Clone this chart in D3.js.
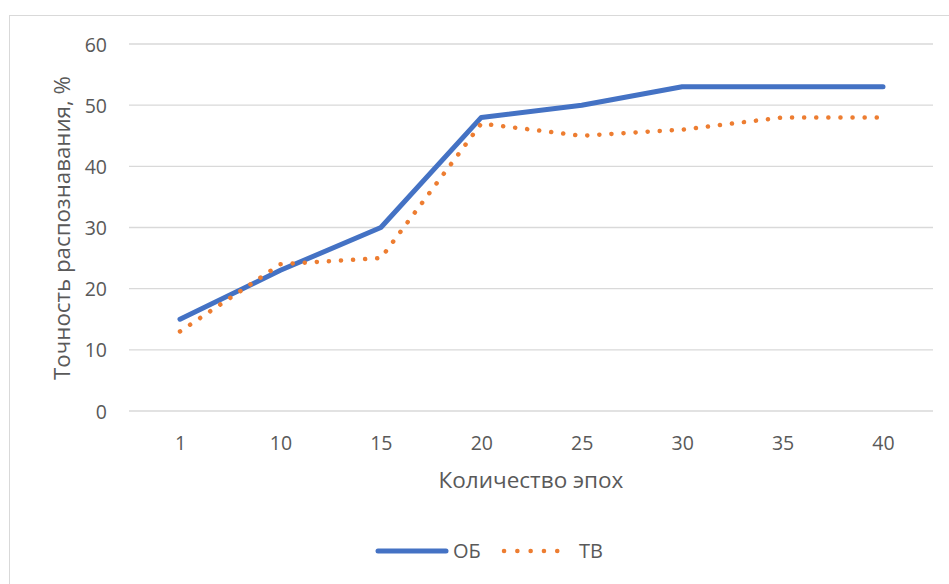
<!DOCTYPE html>
<html><head><meta charset="utf-8">
<script src="https://cdn.jsdelivr.net/npm/d3@7"></script>
<style>body{margin:0;background:#fff}svg{display:block}text{font-family:"Open Sans","Noto Sans",sans-serif}</style>
</head><body><svg id="c" width="949" height="584"></svg>
<script>
const categories = ["1","10","15","20","25","30","35","40"];
const seriesOB = [15,23,30,48,50,53,53,53];
const seriesTV = [13,24,25,47,45,46,48,48];
const yTicks = [0,10,20,30,40,50,60];
const seriesNames = ["ОБ","ТВ"];
const colors = ["#4472C4","#ED7D31"];

const svg = d3.select("#c");
svg.append("rect").attr("x",9.5).attr("y",15.5).attr("width",960).attr("height",600)
  .attr("fill","#fff").attr("stroke","#d9d9d9");

const x = d3.scalePoint().domain(categories).range([180,883]).padding(0);
const y = d3.scaleLinear().domain([0,60]).range([411,44]);

const grid = svg.append("g");
grid.selectAll("line").data(yTicks).join("line")
  .attr("x1",129).attr("x2",933).attr("y1",d=>y(d)).attr("y2",d=>y(d))
  .attr("stroke","#d9d9d9").attr("stroke-width",1.3);

const yAx = svg.append("g").attr("transform","translate(129,0)")
  .call(d3.axisLeft(y).tickValues(yTicks).tickSize(0).tickPadding(22));
yAx.select(".domain").remove();
yAx.selectAll("text").style("font-size","19.5px").attr("fill","#595959").attr("dy","0.36em");

const xAx = svg.append("g").attr("transform","translate(0,411)")
  .call(d3.axisBottom(x).tickSize(0));
xAx.select(".domain").remove();
xAx.selectAll("text").style("font-size","19.5px").attr("fill","#595959").attr("dy",0).attr("y",39);

svg.append("text").attr("x",531).attr("y",488).attr("text-anchor","middle")
  .style("font-size","22.5px").attr("fill","#595959").text("Количество эпох");
svg.append("text").attr("transform","translate(70,228) rotate(-90)").attr("text-anchor","middle")
  .style("font-size","22.3px").attr("fill","#595959").text("Точность распознавания, %");

const line = d3.line().x((d,i)=>x(categories[i])).y(d=>y(d));
svg.append("path").datum(seriesOB).attr("d",line).attr("fill","none")
  .attr("stroke",colors[0]).attr("stroke-width",5).attr("stroke-linecap","round").attr("stroke-linejoin","round");
svg.append("path").datum(seriesTV).attr("d",line).attr("fill","none")
  .attr("stroke",colors[1]).attr("stroke-width",4.5).attr("stroke-linecap","round")
  .attr("stroke-dasharray","0.1 12");

const lg = svg.append("g");
lg.append("line").attr("x1",378).attr("x2",446).attr("y1",551).attr("y2",551)
  .attr("stroke",colors[0]).attr("stroke-width",5).attr("stroke-linecap","round");
lg.append("text").attr("x",453).attr("y",558).style("font-size","20px").attr("fill","#595959").text(seriesNames[0]);
lg.append("line").attr("x1",504).attr("x2",570).attr("y1",551).attr("y2",551)
  .attr("stroke",colors[1]).attr("stroke-width",4.5).attr("stroke-linecap","round").attr("stroke-dasharray","0.1 13.2");
lg.append("text").attr("x",579).attr("y",558).style("font-size","20px").attr("fill","#595959").text(seriesNames[1]);
</script></body></html>
